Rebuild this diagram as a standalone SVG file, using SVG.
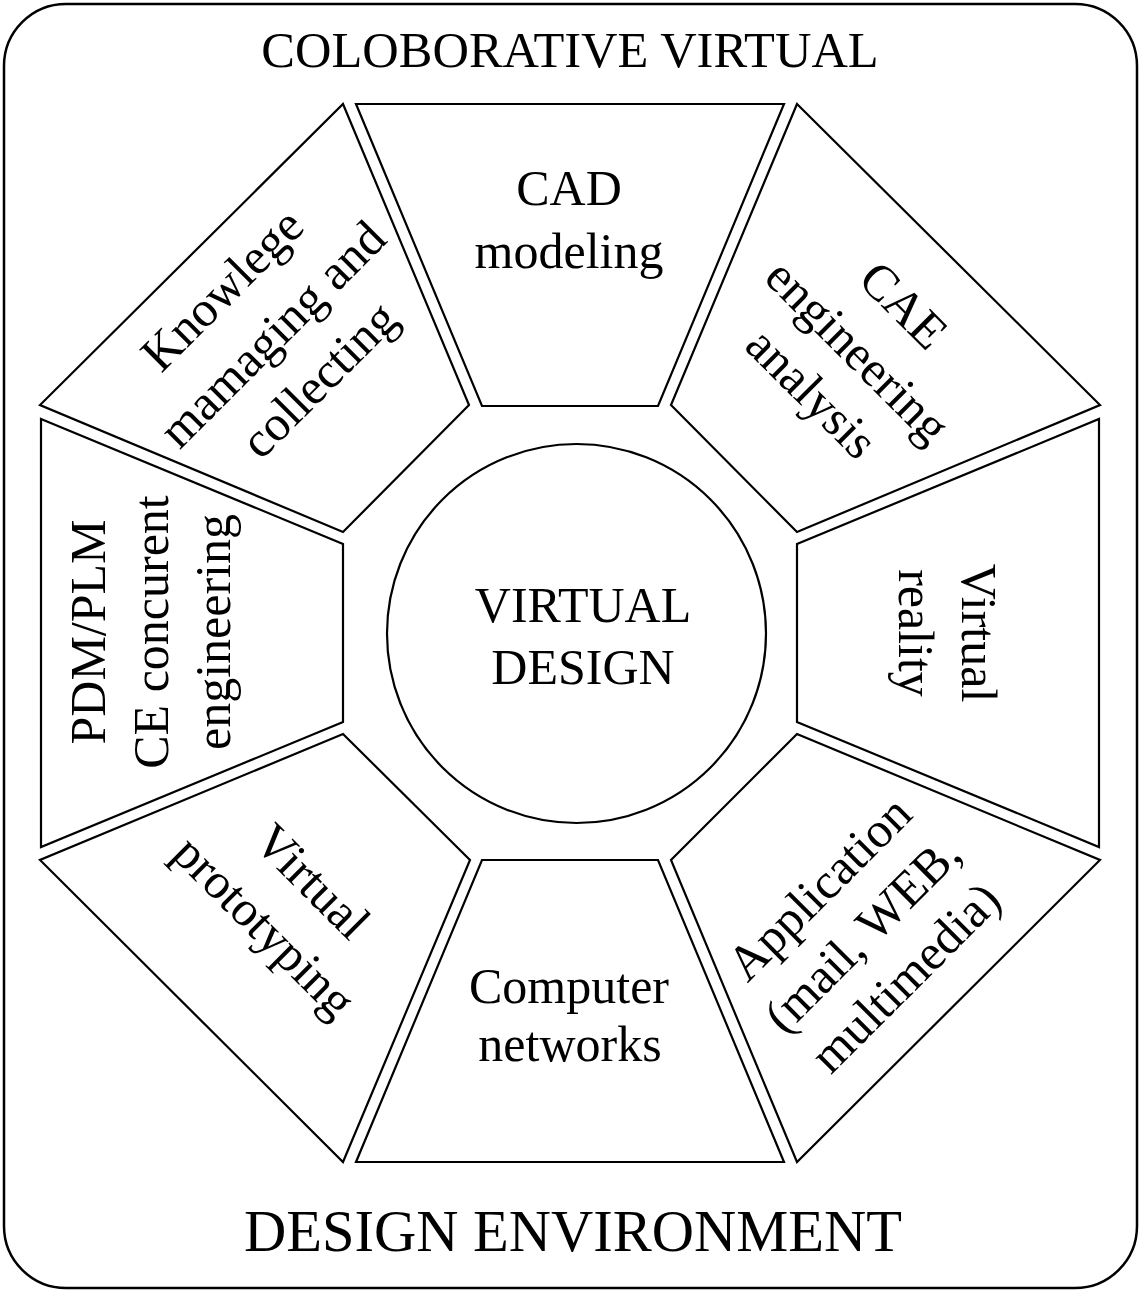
<svg xmlns="http://www.w3.org/2000/svg" width="1141" height="1292" viewBox="0 0 1141 1292">
<style>
.frame{fill:#fff;stroke:#000;stroke-width:2.5}
.seg{fill:#fff;stroke:#000;stroke-width:2.2;stroke-linejoin:miter}
.lbl{font-family:"Liberation Serif","Times New Roman",serif;font-size:50px;text-anchor:middle;fill:#000}
.title{font-family:"Liberation Serif","Times New Roman",serif;text-anchor:middle;fill:#000}
</style>
<rect x="0" y="0" width="1141" height="1292" fill="#fff"/>
<g id="frame">
<rect class="frame" x="4" y="4" width="1133" height="1284" rx="62" ry="62"/>
<text class="title" x="570" y="67" font-size="50.5">COLOBORATIVE VIRTUAL</text>
<text class="title" x="573" y="1251" font-size="58.5">DESIGN ENVIRONMENT</text>
</g>
<g id="connectors"></g>
<g id="cad">
<polygon class="seg" points="356,104 784,104 658,406 482,406"/>
<text class="lbl" x="569" y="205">CAD</text>
<text class="lbl" x="569" y="268">modeling</text>
</g>
<g id="cae">
<polygon class="seg" points="797,104 1100,405 797,532 671,405"/>
<g transform="translate(846,363) rotate(45)">
<text class="lbl" x="0" y="-65">CAE</text>
<text class="lbl" x="0" y="0">engineering</text>
<text class="lbl" x="-3" y="62">analysis</text>
</g>
</g>
<g id="virtual-reality">
<polygon class="seg" points="1099,419 1099,847 797,722 797,544"/>
<g transform="translate(930.5,633) rotate(90)">
<text class="lbl" x="0" y="-31.5">Virtual</text>
<text class="lbl" x="0" y="31.5">reality</text>
</g>
</g>
<g id="application">
<polygon class="seg" points="797,734 1100,860 797,1162 671,860"/>
<g transform="translate(874,946) rotate(-45)">
<text class="lbl" x="2" y="-63">Application</text>
<text class="lbl" x="0" y="0">(mail, WEB,</text>
<text class="lbl" x="0" y="61">multimedia)</text>
</g>
</g>
<g id="computer-networks">
<polygon class="seg" points="482,860 658,860 784,1162 356,1162"/>
<text class="lbl" x="569" y="1003">Computer</text>
<text class="lbl" x="570" y="1061">networks</text>
</g>
<g id="virtual-prototyping">
<polygon class="seg" points="343,734 470,860 343,1162 40,860"/>
<g transform="translate(276,915) rotate(45)">
<text class="lbl" x="2" y="-33">Virtual</text>
<text class="lbl" x="0" y="33">prototyping</text>
</g>
</g>
<g id="pdm-plm">
<polygon class="seg" points="41,419 343,544 343,722 41,847"/>
<g transform="translate(168,632) rotate(-90)">
<text class="lbl" x="0" y="-63">PDM/PLM</text>
<text class="lbl" x="0" y="0">CE concurent</text>
<text class="lbl" x="0" y="62">engineering</text>
</g>
</g>
<g id="knowledge">
<polygon class="seg" points="343,104 469,405 343,532 40,405"/>
<g transform="translate(284,346) rotate(-45)">
<text class="lbl" x="-4" y="-67">Knowlege</text>
<text class="lbl" x="0" y="0">mamaging and</text>
<text class="lbl" x="1" y="65">collecting</text>
</g>
</g>
<g id="virtual-design">
<circle class="seg" cx="576.5" cy="633.5" r="189.5"/>
<text class="lbl" x="583" y="622">VIRTUAL</text>
<text class="lbl" x="583" y="684">DESIGN</text>
</g>
</svg>
